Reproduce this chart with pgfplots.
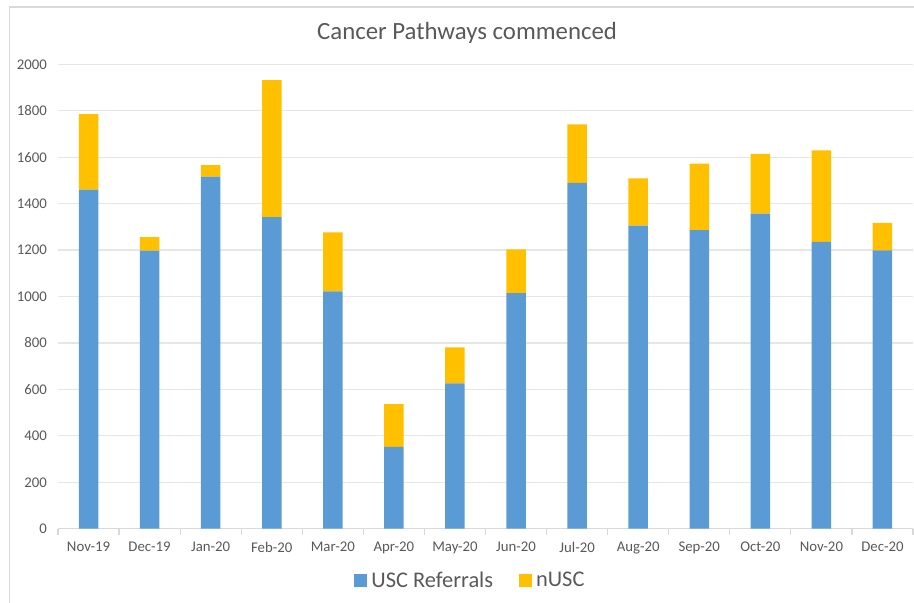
\documentclass[border=0pt]{standalone}
\usepackage{pgfplots}
\pgfplotsset{compat=1.18}
\usepackage{fontspec}
\setmainfont{Carlito}
\definecolor{uscblue}{HTML}{5B9BD5}
\definecolor{nuscgold}{HTML}{FFC000}
\definecolor{txtgray}{HTML}{595959}
\definecolor{gridgray}{HTML}{E6E6E6}
\definecolor{axgray}{HTML}{D9D9D9}
\begin{document}
\begin{tikzpicture}
\useasboundingbox (-29pt,-37.15pt) rectangle (428pt,264.35pt);
\draw[axgray, line width=0.6pt] (-24.25pt,-40pt) -- (-24.25pt,260.85pt) -- (430pt,260.85pt);
\node[text=txtgray, font=\fontsize{12.4pt}{14pt}\selectfont] at (204.5pt,247.85pt) {Cancer Pathways commenced};
\begin{axis}[
  at={(0,0)}, anchor=south west,
  scale only axis, width=427.5pt, height=232.2pt,
  ybar stacked, bar width=9.75pt,
  xmin=-0.5, xmax=13.5, ymin=0, ymax=2000,
  ytick={0,200,...,2000},
  xtick={0,...,13},
  xticklabels={Nov-19,Dec-19,Jan-20,Feb-20,Mar-20,Apr-20,May-20,Jun-20,Jul-20,Aug-20,Sep-20,Oct-20,Nov-20,Dec-20},
  minor xtick={-0.5,0.5,...,13.5},
  major x tick style={draw=none},
  minor x tick style={draw=axgray, line width=0.6pt},
  tick align=outside,
  minor tick length=3pt,
  major tick length=0pt,
  ymajorgrids, grid style={gridgray, line width=0.6pt},
  axis x line*=bottom, axis y line*=left,
  x axis line style={axgray, line width=0.6pt, -},
  y axis line style={draw=none},
  y tick style={draw=none},
  /pgf/number format/assume math mode=true,
  /pgf/number format/1000 sep={},
  tick label style={text=txtgray, font=\fontsize{7.4pt}{9pt}\selectfont},
  xticklabel style={yshift=-3pt},
  yticklabel style={xshift=-2pt},
  legend style={at={(0.4836,-0.1126)}, anchor=center, draw=none, fill=none,
    legend columns=2, font=\fontsize{11.2pt}{13pt}\selectfont, text=txtgray,
    /tikz/every even column/.append style={column sep=11pt}},
  legend image code/.code={\fill[#1] (0pt,-3.25pt) rectangle (6.5pt,3.25pt);},
  legend cell align=left,
]
\addplot[fill=uscblue, draw=none] coordinates {
(0,1460) (1,1197) (2,1516) (3,1342) (4,1022) (5,352) (6,626) (7,1014) (8,1489) (9,1305) (10,1286) (11,1357) (12,1235) (13,1199)};
\addplot[fill=nuscgold, draw=none] coordinates {
(0,325) (1,59) (2,50) (3,590) (4,254) (5,185) (6,155) (7,189) (8,252) (9,204) (10,286) (11,257) (12,394) (13,118)};
\legend{USC Referrals, nUSC}
\end{axis}
\end{tikzpicture}
\end{document}
